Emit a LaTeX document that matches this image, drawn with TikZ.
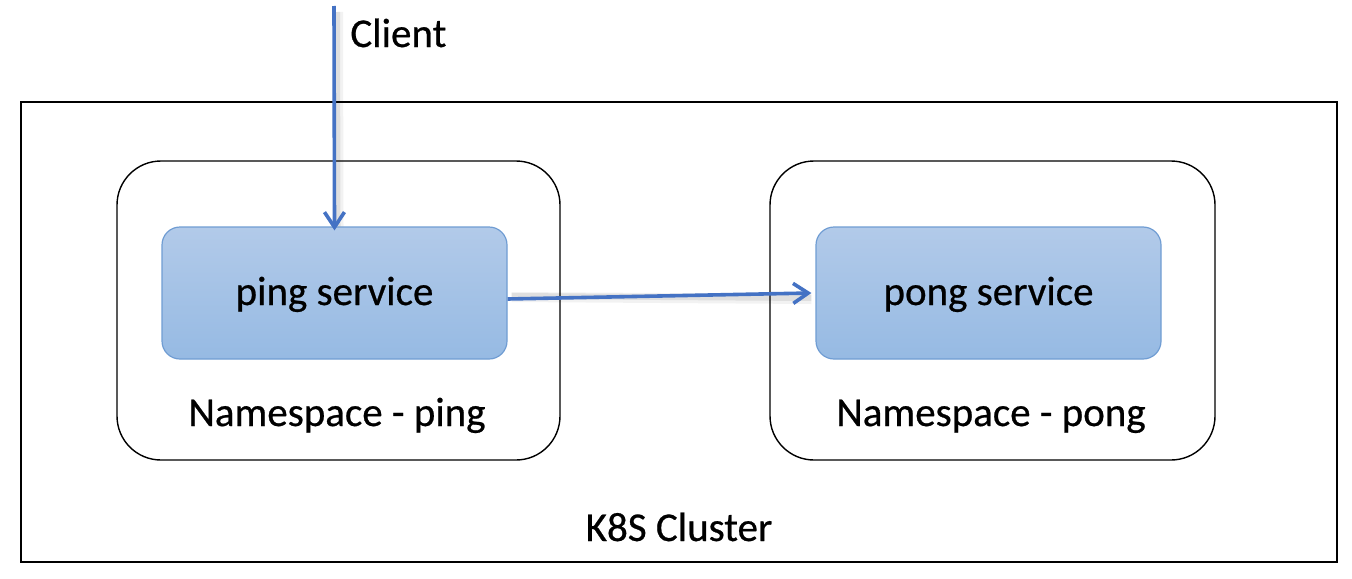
\documentclass[tikz,border=0pt]{standalone}
\usepackage{fontspec}
\setmainfont{Carlito}[FakeBold=0.6]
\usetikzlibrary{arrows.meta}
\definecolor{svcTop}{RGB}{178,202,233}
\definecolor{svcBot}{RGB}{150,186,227}
\definecolor{svcLine}{RGB}{112,157,211}
\definecolor{arrowBlue}{RGB}{68,114,196}
\tikzset{
  lbl/.style={font=\fontsize{20.5}{24}\selectfont, text=black, inner sep=0pt},
  cluster/.style={draw=black, line width=1pt, fill=white},
  nsbox/.style={draw=black, line width=0.7pt, rounded corners=22pt, fill=white},
  svcbox/.style={draw=svcLine, line width=0.6pt, rounded corners=9pt, top color=svcTop, bottom color=svcBot,
    minimum width=345*0.5pt, minimum height=132*0.5pt, font=\fontsize{20.5}{24}\selectfont, inner sep=0pt,
    text height=14pt, text depth=2pt},
  flow/.style={draw=arrowBlue, line width=1.8pt, -{Straight Barb[length=7.5pt,width=10pt,line width=1.8pt]}},
  flowshadowA/.style={draw=black, opacity=0.05, line width=5pt},
  flowshadowB/.style={draw=black, opacity=0.08, line width=3pt}
}
\begin{document}
\begin{tikzpicture}[x=0.5pt, y=-0.5pt]
\useasboundingbox (0,0) rectangle (1352,578);
% cluster
\draw[cluster] (21,102) rectangle (1337,562);
\node[lbl, anchor=base] (k8s) at (679,541) {K8S Cluster};
% namespaces
\draw[nsbox] (117,161) rectangle (560,460);
\draw[nsbox] (770,161) rectangle (1215,460);
\node[lbl, anchor=base] (nsping) at (337,426) {Namespace - ping};
\node[lbl, anchor=base] (nspong) at (991,426) {Namespace - pong};
% services
\node[svcbox] (ping) at (334.5,293) {ping service};
\node[svcbox] (pong) at (988.5,293) {pong service};
% client
\coordinate (client) at (334,6);
\node[lbl, anchor=base west] (clientlbl) at (350,47) {Client};
% shadows
\draw[flowshadowA] ([shift={(4,6)}]client) -- ([shift={(4,0)}]ping.north);
\draw[flowshadowB] ([shift={(3,6)}]client) -- ([shift={(3,0)}]ping.north);
\draw[flowshadowA] ([shift={(4,4)}]ping.east) -- ([shift={(-4,6)}]pong.west);
\draw[flowshadowB] ([shift={(4,3)}]ping.east) -- ([shift={(-4,5)}]pong.west);
% arrows
\draw[flow] (client) -- ([yshift=-2]ping.north);
\draw[flow] ([yshift=-3]ping.east) -- ([xshift=-2]pong.west);
\end{tikzpicture}
\end{document}
